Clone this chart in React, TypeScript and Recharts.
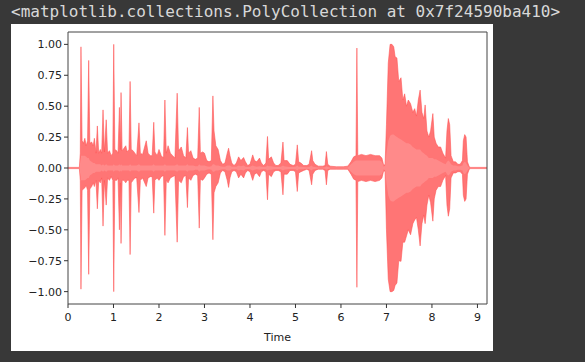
import { ComposedChart, Area, XAxis, YAxis, ReferenceArea } from 'recharts';

// waveform envelope (seconds / amplitude)
const times = [
  0, 0.25, 0.27, 0.285, 0.31, 0.34, 0.37, 0.40, 0.43, 0.455,
  0.48, 0.52, 0.555, 0.58, 0.615, 0.645, 0.675, 0.71, 0.74, 0.77,
  0.80, 0.84, 0.87, 0.91, 0.95, 0.985, 1.005, 1.03, 1.07, 1.10,
  1.13, 1.15, 1.166, 1.19, 1.23, 1.27, 1.30, 1.34, 1.365, 1.39,
  1.43, 1.47, 1.51, 1.56, 1.59, 1.64, 1.72, 1.76, 1.81, 1.85,
  1.885, 1.91, 1.96, 2.0, 2.05, 2.10, 2.13, 2.16, 2.20, 2.25,
  2.30, 2.35, 2.40, 2.43, 2.49, 2.54, 2.59, 2.625, 2.65, 2.70,
  2.75, 2.80, 2.85, 2.885, 2.91, 2.96, 3.0, 3.05, 3.10, 3.15,
  3.185, 3.21, 3.25, 3.30, 3.35, 3.40, 3.45, 3.50, 3.53, 3.56,
  3.60, 3.65, 3.70, 3.75, 3.80, 3.86, 3.90, 3.95, 4.00, 4.06,
  4.10, 4.15, 4.21, 4.25, 4.30, 4.35, 4.385, 4.41, 4.47, 4.52,
  4.57, 4.62, 4.68, 4.725, 4.75, 4.82, 4.88, 4.95, 5.0, 5.04,
  5.07, 5.12, 5.18, 5.25, 5.30, 5.355, 5.38, 5.43, 5.50, 5.60,
  5.65, 5.68, 5.71, 5.76, 5.90, 6.05, 6.15, 6.22, 6.28, 6.33,
  6.35, 6.37, 6.45, 6.55, 6.65, 6.75, 6.85, 6.90, 6.94, 6.97,
  7.0, 7.04, 7.08, 7.12, 7.16, 7.19, 7.23, 7.27, 7.32, 7.36,
  7.40, 7.44, 7.48, 7.53, 7.58, 7.62, 7.66, 7.70, 7.74, 7.78,
  7.82, 7.85, 7.89, 7.93, 7.97, 8.02, 8.05, 8.09, 8.14, 8.19,
  8.24, 8.30, 8.33, 8.36, 8.39, 8.42, 8.47, 8.52, 8.57, 8.62,
  8.67, 8.69, 8.72, 8.75, 8.78, 8.82, 8.85, 9.21,
];

const upper = [
  0.005, 0.005, 0.12, 0.98, 0.22, 0.2, 0.24, 0.18, 0.22, 0.87,
  0.2, 0.21, 0.18, 0.24, 0.12, 0.34, 0.12, 0.15, 0.12, 0.47,
  0.13, 0.39, 0.12, 0.14, 0.1, 0.12, 1.0, 0.15, 0.14, 0.12,
  0.49, 0.15, 0.61, 0.14, 0.16, 0.18, 0.13, 0.15, 0.70, 0.15,
  0.14, 0.12, 0.1, 0.365, 0.12, 0.11, 0.22, 0.12, 0.1, 0.1,
  0.37, 0.13, 0.1, 0.15, 0.1, 0.08, 0.55, 0.12, 0.18, 0.12,
  0.1, 0.08, 0.605, 0.14, 0.17, 0.1, 0.08, 0.327, 0.12, 0.14,
  0.08, 0.07, 0.08, 0.49, 0.12, 0.13, 0.12, 0.06, 0.05, 0.06,
  0.583, 0.3, 0.18, 0.15, 0.06, 0.03, 0.04, 0.12, 0.16, 0.1,
  0.04, 0.02, 0.04, 0.09, 0.06, 0.085, 0.05, 0.02, 0.03, 0.106,
  0.06, 0.05, 0.08, 0.04, 0.02, 0.04, 0.255, 0.07, 0.09, 0.04,
  0.02, 0.02, 0.04, 0.21, 0.06, 0.06, 0.03, 0.02, 0.03, 0.187,
  0.05, 0.04, 0.02, 0.02, 0.03, 0.14, 0.06, 0.03, 0.015, 0.015,
  0.02, 0.133, 0.03, 0.015, 0.01, 0.01, 0.015, 0.05, 0.09, 0.1,
  0.97, 0.1, 0.11, 0.1, 0.11, 0.1, 0.1, 0.08, 0.02, 0.03,
  0.35, 0.85, 1.0, 1.0, 0.98, 0.9, 0.89, 0.7, 0.73, 0.55,
  0.6, 0.5, 0.55, 0.52, 0.45, 0.48, 0.42, 0.55, 0.63, 0.45,
  0.4, 0.51, 0.3, 0.25, 0.3, 0.44, 0.25, 0.2, 0.17, 0.17,
  0.12, 0.08, 0.3, 0.4, 0.35, 0.1, 0.05, 0.05, 0.03, 0.03,
  0.06, 0.22, 0.27, 0.25, 0.05, 0.01, 0.005, 0.005,
];

const lower = [
  -0.005, -0.005, -0.1, -0.98, -0.18, -0.17, -0.16, -0.14, -0.18, -0.86,
  -0.17, -0.15, -0.12, -0.15, -0.1, -0.33, -0.1, -0.12, -0.08, -0.47,
  -0.1, -0.3, -0.08, -0.1, -0.07, -0.1, -1.0, -0.1, -0.1, -0.08,
  -0.5, -0.12, -0.61, -0.1, -0.1, -0.12, -0.1, -0.1, -0.7, -0.12,
  -0.1, -0.08, -0.08, -0.36, -0.1, -0.08, -0.15, -0.08, -0.07, -0.07,
  -0.365, -0.1, -0.08, -0.1, -0.07, -0.06, -0.545, -0.1, -0.12, -0.08,
  -0.07, -0.06, -0.6, -0.1, -0.12, -0.07, -0.06, -0.32, -0.08, -0.1,
  -0.06, -0.05, -0.06, -0.486, -0.09, -0.1, -0.08, -0.05, -0.04, -0.05,
  -0.58, -0.2, -0.15, -0.12, -0.04, -0.02, -0.03, -0.1, -0.157, -0.08,
  -0.03, -0.02, -0.03, -0.08, -0.05, -0.08, -0.04, -0.02, -0.03, -0.1,
  -0.05, -0.04, -0.07, -0.03, -0.02, -0.03, -0.257, -0.05, -0.07, -0.03,
  -0.02, -0.02, -0.03, -0.217, -0.05, -0.05, -0.02, -0.02, -0.03, -0.19,
  -0.04, -0.03, -0.02, -0.01, -0.02, -0.136, -0.05, -0.02, -0.01, -0.01,
  -0.02, -0.136, -0.02, -0.01, -0.01, -0.01, -0.01, -0.05, -0.09, -0.1,
  -0.965, -0.11, -0.1, -0.11, -0.1, -0.11, -0.1, -0.08, -0.02, -0.03,
  -0.5, -0.9, -1.0, -1.0, -0.99, -0.95, -0.93, -0.75, -0.755, -0.6,
  -0.6, -0.55, -0.5, -0.54, -0.45, -0.42, -0.4, -0.5, -0.63, -0.45,
  -0.38, -0.45, -0.3, -0.22, -0.28, -0.43, -0.25, -0.18, -0.15, -0.15,
  -0.1, -0.06, -0.3, -0.39, -0.33, -0.08, -0.04, -0.04, -0.03, -0.03,
  -0.05, -0.22, -0.27, -0.25, -0.05, -0.01, -0.005, -0.005,
];

// half-height of the lighter inner band
const core = [
  0.002, 0.002, 0.05, 0.1, 0.1, 0.1, 0.1, 0.09, 0.08, 0.08,
  0.06, 0.05, 0.04, 0.04, 0.03, 0.03, 0.03, 0.03, 0.02, 0.03,
  0.02, 0.03, 0.02, 0.02, 0.02, 0.02, 0.03, 0.02, 0.02, 0.02,
  0.03, 0.02, 0.03, 0.02, 0.02, 0.02, 0.02, 0.02, 0.03, 0.02,
  0.02, 0.02, 0.02, 0.03, 0.02, 0.02, 0.02, 0.02, 0.02, 0.02,
  0.03, 0.02, 0.02, 0.02, 0.02, 0.02, 0.03, 0.02, 0.02, 0.02,
  0.02, 0.02, 0.03, 0.02, 0.02, 0.02, 0.02, 0.03, 0.02, 0.02,
  0.02, 0.015, 0.015, 0.03, 0.02, 0.02, 0.02, 0.015, 0.01, 0.015,
  0.03, 0.03, 0.02, 0.02, 0.015, 0.01, 0.01, 0.02, 0.02, 0.02,
  0.01, 0.01, 0.01, 0.02, 0.015, 0.02, 0.01, 0.008, 0.01, 0.02,
  0.015, 0.01, 0.015, 0.01, 0.008, 0.01, 0.02, 0.015, 0.015, 0.01,
  0.008, 0.008, 0.01, 0.02, 0.015, 0.01, 0.008, 0.008, 0.01, 0.02,
  0.01, 0.01, 0.008, 0.006, 0.008, 0.02, 0.01, 0.008, 0.005, 0.005,
  0.006, 0.015, 0.008, 0.005, 0.004, 0.004, 0.005, 0.03, 0.05, 0.06,
  0.06, 0.06, 0.06, 0.06, 0.06, 0.06, 0.06, 0.05, 0.01, 0.02,
  0.12, 0.22, 0.26, 0.27, 0.27, 0.26, 0.25, 0.24, 0.23, 0.22,
  0.21, 0.2, 0.2, 0.19, 0.17, 0.16, 0.15, 0.15, 0.15, 0.13,
  0.12, 0.11, 0.1, 0.08, 0.08, 0.08, 0.07, 0.07, 0.06, 0.05,
  0.04, 0.03, 0.05, 0.06, 0.05, 0.03, 0.02, 0.02, 0.015, 0.015,
  0.02, 0.04, 0.05, 0.04, 0.02, 0.005, 0.002, 0.002,
];

const xTicks = [0, 1, 2, 3, 4, 5, 6, 7, 8, 9];
const yTicks = [-1, -0.75, -0.5, -0.25, 0, 0.25, 0.5, 0.75, 1];

const data = times.map((t, i) => ({
  t,
  env: [lower[i], upper[i]],
  inner: [-core[i], core[i]],
}));

const fmtY = (v: number) => (v < 0 ? '\u2212' : '') + Math.abs(v).toFixed(2);

const tickStyle = { fill: '#222', fontSize: 11, fontFamily: 'DejaVu Sans' };

export default function App() {
  return (
    <div style={{ position: 'absolute', left: 0, top: 0, width: 585, height: 362, background: '#383838', overflow: 'hidden' }}>
      <div
        style={{
          position: 'absolute', left: 11, top: 2,
          color: '#d8d8d8', fontFamily: '"DejaVu Sans Mono", monospace', fontSize: 16,
          whiteSpace: 'nowrap',
        }}
      >
        {'<matplotlib.collections.PolyCollection at 0x7f24590ba410>'}
      </div>
      <div style={{ position: 'absolute', left: 11, top: 24, width: 482, height: 327, background: '#fff' }}>
        <ComposedChart width={482} height={327} data={data} margin={{ top: 8, right: 6, bottom: 7, left: 0 }}>
          <XAxis
            dataKey="t"
            type="number"
            domain={[0, 9.21]}
            ticks={xTicks}
            allowDataOverflow
            height={40}
            tick={tickStyle}
            tickSize={4}
            tickMargin={5}
            tickLine={{ stroke: '#333' }}
            axisLine={false}
            label={{ value: 'Time', position: 'insideBottom', offset: 3, style: tickStyle }}
          />
          <YAxis
            type="number"
            domain={[-1.1, 1.1]}
            ticks={yTicks}
            allowDataOverflow
            width={57}
            tick={tickStyle}
            tickSize={4}
            tickLine={{ stroke: '#333' }}
            axisLine={false}
            tickFormatter={fmtY}
          />
          <Area
            type="linear"
            dataKey="env"
            stroke="#ff5050"
            strokeWidth={0.7}
            strokeOpacity={0.8}
            fill="#ff4040"
            fillOpacity={0.72}
            isAnimationActive={false}
            dot={false}
            activeDot={false}
          />
          <Area
            type="linear"
            dataKey="inner"
            stroke="none"
            fill="#ff8a8a"
            fillOpacity={1}
            isAnimationActive={false}
            dot={false}
            activeDot={false}
          />
          <ReferenceArea x1={0} x2={9.21} y1={-1.1} y2={1.1} fill="none" fillOpacity={0} stroke="#444" strokeWidth={1} />
        </ComposedChart>
      </div>
    </div>
  );
}
